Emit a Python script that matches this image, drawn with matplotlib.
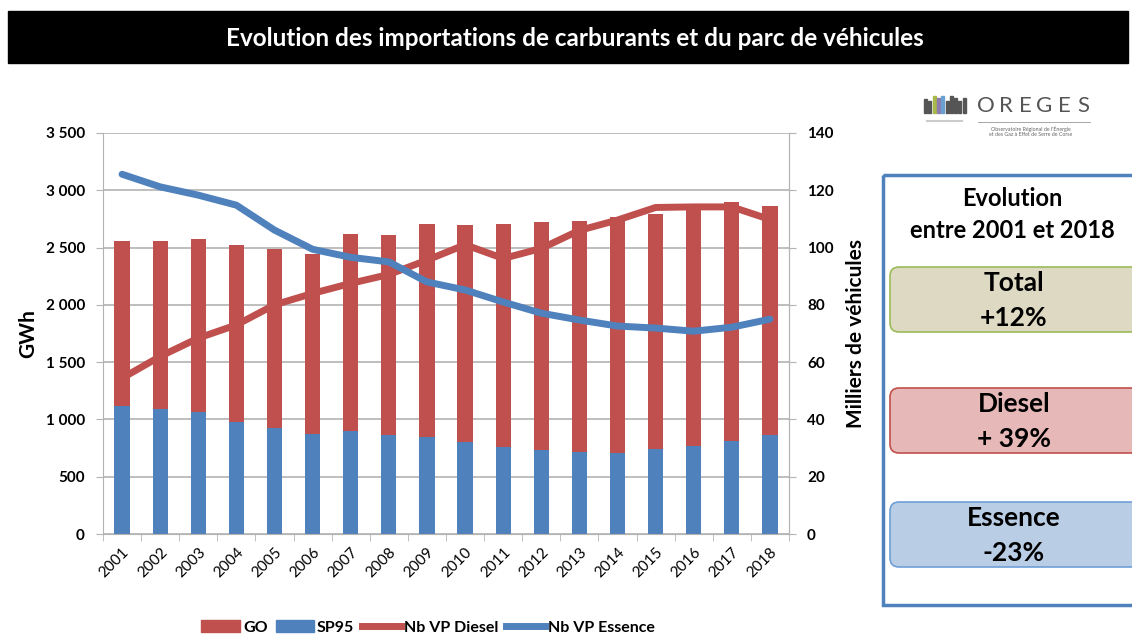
import matplotlib.pyplot as plt
from matplotlib.patches import Rectangle, FancyBboxPatch, Patch
from matplotlib.lines import Line2D
from matplotlib.ticker import FuncFormatter

plt.rcParams['font.family'] = ['Lato', 'DejaVu Sans']

annees = [str(a) for a in range(2001, 2019)]
sp95 = [1120, 1088, 1062, 977, 928, 870, 899, 861, 844, 803, 762, 730, 716, 707, 744, 771, 814, 864]
total = [2553, 2555, 2579, 2521, 2491, 2445, 2617, 2609, 2710, 2699, 2708, 2723, 2734, 2765, 2793, 2846, 2901, 2866]
go = [t - s for t, s in zip(total, sp95)]
vp_diesel = [54.4, 62, 68.4, 73, 80, 84, 87.5, 90.6, 95.6, 101, 96.2, 99.7, 106, 109.6, 114, 114.2, 114.2, 109.8]
vp_essence = [125.6, 121.2, 118.3, 114.8, 106.1, 99.4, 96.6, 95, 88, 85.2, 81, 77.1, 74.7, 72.6, 71.9, 70.8, 72.2, 75]

rouge = '#c0504d'
bleu = '#4f81bd'
gris = '#b3b3b3'

fig = plt.figure(figsize=(11.32, 6.35), dpi=100)
ax = fig.add_axes([103 / 1132, 101 / 635, 686 / 1132, 401 / 635])
x = list(range(len(annees)))
ax.bar(x, sp95, width=0.4, color=bleu, zorder=2)
ax.bar(x, go, width=0.4, bottom=sp95, color=rouge, zorder=2)
ax.set_xlim(-0.5, len(annees) - 0.5)
ax.set_ylim(0, 3500)
ax.set_yticks(range(0, 3501, 500))
ax.yaxis.set_major_formatter(FuncFormatter(lambda v, p: f"{int(v):,}".replace(",", " ")))
ax.grid(axis='y', color=gris, lw=1.2, zorder=0)
ax.set_xticks(x)
ax.set_xticklabels(annees, rotation=45, ha='right', rotation_mode='anchor', fontsize=11)
ax.set_xticks([i + 0.5 for i in range(-1, len(annees))], minor=True)
ax.tick_params(axis='x', which='major', length=0, pad=8)
ax.tick_params(axis='x', which='minor', length=5, color=gris)
ax.tick_params(axis='y', length=5, color=gris, labelsize=11, pad=8)
for lab in ax.get_yticklabels():
    lab.set_fontweight('bold')
ax.spines['top'].set_visible(False)
for s in ['left', 'right', 'bottom']:
    ax.spines[s].set_color(gris)
ax.set_ylabel('GWh', fontsize=15, fontweight='bold', labelpad=5)

ax2 = ax.twinx()
ax2.plot(x, vp_diesel, color=rouge, lw=5, solid_capstyle='round', solid_joinstyle='round', zorder=3)
ax2.plot(x, vp_essence, color=bleu, lw=5, solid_capstyle='round', solid_joinstyle='round', zorder=4)
ax2.set_ylim(0, 140)
ax2.set_yticks(range(0, 141, 20))
ax2.tick_params(axis='y', length=5, color=gris, labelsize=11, pad=8)
for lab in ax2.get_yticklabels():
    lab.set_fontweight('bold')
for s in ['top', 'left', 'bottom']:
    ax2.spines[s].set_visible(False)
ax2.spines['right'].set_color(gris)
ax2.set_ylabel('Milliers de véhicules', fontsize=15, fontweight='bold', labelpad=9)

handles = [Patch(color=rouge, label='GO'), Patch(color=bleu, label='SP95'),
           Line2D([], [], color=rouge, lw=5, label='Nb VP Diesel'),
           Line2D([], [], color=bleu, lw=5, label='Nb VP Essence')]
fig.legend(handles=handles, loc='lower center', bbox_to_anchor=(428 / 1132, -0.022), ncol=4,
           frameon=False, prop={'weight': 'bold', 'size': 11.5}, handlelength=2.4,
           handletextpad=0.2, columnspacing=0.5)

# calque en pixels pour le titre et le panneau de droite
ov = fig.add_axes([0, 0, 1, 1], zorder=-1)
ov.set_xlim(0, 1132)
ov.set_ylim(635, 0)
ov.axis('off')
ov.add_patch(Rectangle((8, 11), 1120, 52, color='black'))
ov.text(575, 38, 'Evolution des importations de carburants et du parc de véhicules',
        color='white', fontsize=17.5, fontweight='bold', ha='center', va='center')

ov.add_patch(Rectangle((883, 175), 260, 430, fill=False, edgecolor=bleu, lw=2.5))
ov.text(1012, 198, 'Evolution', fontsize=17, fontweight='bold', ha='center', va='center')
ov.text(1012, 231, 'entre 2001 et 2018', fontsize=17, fontweight='bold', ha='center', va='center')

boites = [('Total', '+12%', 267, '#ddd9c3', '#9bbb59'),
          ('Diesel', '+ 39%', 388, '#e6b9b8', '#c0504d'),
          ('Essence', '-23%', 502, '#b9cde5', '#6f9fd8')]
for nom, val, y0, fc, ec in boites:
    ov.add_patch(FancyBboxPatch((890, y0), 250, 65, boxstyle='round,pad=0,rounding_size=9',
                                facecolor=fc, edgecolor=ec, lw=1.2))
    ov.text(1014, y0 + 16, nom, fontsize=19, fontweight='bold', ha='center', va='center')
    ov.text(1014, y0 + 51, val, fontsize=19, fontweight='bold', ha='center', va='center')

# logo OREGES
logo_col = ['#555555', '#555555', '#a9b84a', '#8f7bb0', '#6aa0d0', '#555555', '#555555', '#555555', '#555555', '#555555']
logo_h = [14, 12, 17, 15, 17, 12, 17, 15, 12, 15]
for i, (c, h) in enumerate(zip(logo_col, logo_h)):
    ov.add_patch(Rectangle((924 + i * 4.3, 113 - h), 3, h, color=c))
ov.plot([927, 962], [121, 121], color='#cccccc', lw=1.5)
for i, lettre in enumerate('OREGES'):
    ov.text(986 + i * 19.5, 106, lettre, fontsize=16, color='#555555', ha='center', va='center')
ov.plot([978, 1090], [122, 122], color='#999999', lw=0.6)
ov.text(1031, 129, "Observatoire Régional de l'Énergie", fontsize=3.8, color='#666666', ha='center', va='center')
ov.text(1031, 135, "et des Gaz à Effet de Serre de Corse", fontsize=3.8, color='#666666', ha='center', va='center')

fig.savefig('out.png', dpi=100)
